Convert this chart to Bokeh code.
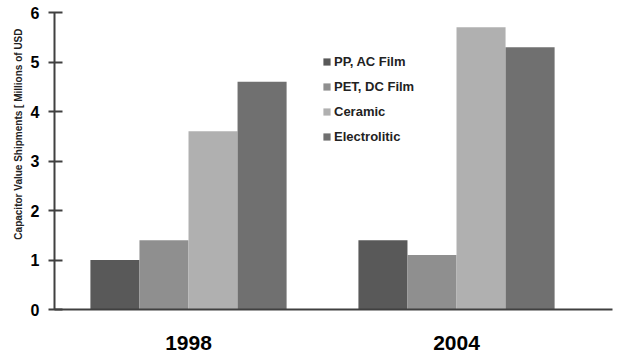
from bokeh.plotting import figure
from bokeh.models import Range1d, Title, FixedTicker
from bokeh.embed import file_html
from bokeh.resources import INLINE

years = ["1998", "2004"]
series = ["PP, AC Film", "PET, DC Film", "Ceramic", "Electrolitic"]
values = {
    "PP, AC Film": [1.0, 1.4],
    "PET, DC Film": [1.4, 1.1],
    "Ceramic": [3.6, 5.7],
    "Electrolitic": [4.6, 5.3],
}
colors = ["#595959", "#8f8f8f", "#b0b0b0", "#707070"]
y_ticks = [0, 1, 2, 3, 4, 5, 6]

FONT = "Liberation Sans"
AX = "#404040"

p = figure(width=613, height=352, output_backend="svg", toolbar_location=None,
           x_range=Range1d(0, 2.082), y_range=Range1d(0, 6),
           min_border_left=54, min_border_right=1, min_border_top=12, min_border_bottom=42)
p.outline_line_color = None
p.xgrid.visible = False
p.ygrid.visible = False

centers = [0.5 + i for i in range(len(years))]
w = 0.183
for k, (s, c) in enumerate(zip(series, colors)):
    xs = [cx + (k - 1.5) * w for cx in centers]
    p.vbar(x=xs, top=values[s], width=w, fill_color=c, line_color=None, legend_label=s)

# y axis
ya = p.yaxis[0]
ya.ticker = FixedTicker(ticks=y_ticks)
ya.minor_tick_line_color = None
ya.major_tick_in = 8
ya.major_tick_out = 6
ya.major_tick_line_width = 2
ya.major_tick_line_color = AX
ya.axis_line_width = 2
ya.axis_line_color = AX
ya.major_label_text_font = FONT
ya.major_label_text_font_style = "bold"
ya.major_label_text_font_size = "16px"
ya.major_label_text_color = "#000000"
ya.major_label_standoff = 9

# x axis
xa = p.xaxis[0]
xa.ticker = FixedTicker(ticks=centers)
xa.major_label_overrides = {c: y for c, y in zip(centers, years)}
xa.major_tick_line_color = None
xa.minor_tick_line_color = None
xa.axis_line_width = 2
xa.axis_line_color = AX
xa.major_label_text_font = FONT
xa.major_label_text_font_style = "bold"
xa.major_label_text_font_size = "21px"
xa.major_label_text_color = "#000000"
xa.major_label_standoff = 20

# y axis title
t = Title(text="Capacitor Value Shipments [ Millions of USD", align="right", offset=16,
          text_font=FONT, text_font_style="bold", text_font_size="10px",
          text_color="#222222", standoff=8)
p.add_layout(t, "left")

lg = p.legend[0]
lg.location = (268, 165)
lg.border_line_color = None
lg.background_fill_alpha = 0
lg.padding = 0
lg.margin = 0
lg.glyph_width = 9
lg.glyph_height = 9
lg.label_height = 16
lg.spacing = 9
lg.label_standoff = 3
lg.label_text_font = FONT
lg.label_text_font_style = "bold"
lg.label_text_font_size = "13px"
lg.label_text_color = "#222222"

open("out.html", "w").write(file_html(p, INLINE))
